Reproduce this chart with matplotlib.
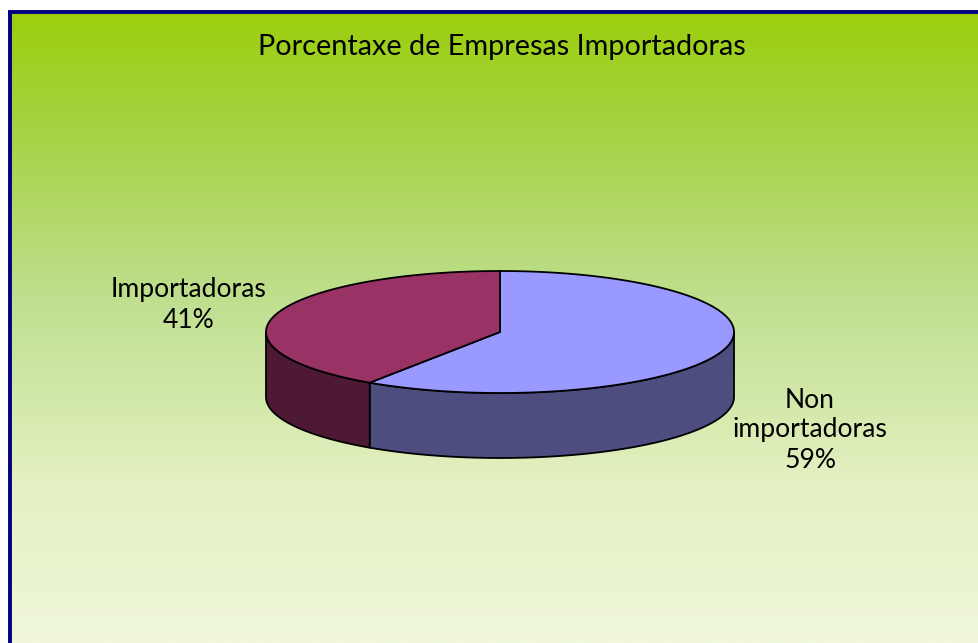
import numpy as np
import matplotlib
matplotlib.use("Agg")
import matplotlib.pyplot as plt
from matplotlib.colors import LinearSegmentedColormap
from matplotlib.patches import Polygon

title = "Porcentaxe de Empresas Importadoras"
categories = ["Non\nimportadoras", "Importadoras"]
values = [59.4, 40.6]
top_colors = ["#9999FF", "#993366"]
side_colors = ["#4D4D80", "#4D1933"]

W, H = 979, 643
CX, CY, RX, RY, DEPTH = 500, 332, 234, 61, 65


def ellipse_point(angle):
    # angle in radians, clockwise from 12 o'clock
    return CX + RX * np.sin(angle), CY - RY * np.cos(angle)


plt.rcParams["font.family"] = ["Lato", "DejaVu Sans"]
fig = plt.figure(figsize=(W / 100, H / 100), dpi=100, facecolor="white")
ax = fig.add_axes([0, 0, 1, 1])

# background gradient and border
bg = LinearSegmentedColormap.from_list(
    "bg", [(0, "#9BCF0C"), (0.17, "#A4D23F"), (0.46, "#C0DF90"),
           (0.75, "#E4F1C2"), (1, "#F0F7DB")])
ax.imshow(np.linspace(0, 1, 256).reshape(-1, 1), cmap=bg, aspect="auto",
          extent=(10, W, H, 12), zorder=0)
ax.set_xlim(0, W)
ax.set_ylim(H, 0)
ax.axis("off")
ax.plot([10, 10], [H, 11.7], color="#000080", lw=2.8, zorder=1, solid_capstyle="butt")
ax.plot([8, W], [11.7, 11.7], color="#000080", lw=2.8, zorder=1, solid_capstyle="butt")

# slices run clockwise from the top
edges = np.concatenate([[0], np.cumsum(values)]) / sum(values) * 2 * np.pi

for i in range(len(values)):
    a0, a1 = edges[i], edges[i + 1]

    # side wall: only the front half of the ellipse is visible
    s0, s1 = max(a0, np.pi / 2), min(a1, 3 * np.pi / 2)
    if s1 > s0:
        t = np.linspace(s0, s1, 120)
        x, y = ellipse_point(t)
        wall = np.column_stack([np.r_[x, x[::-1]], np.r_[y, y[::-1] + DEPTH]])
        ax.add_patch(Polygon(wall, closed=True, facecolor=side_colors[i],
                             edgecolor="black", lw=1.3, zorder=2))

for i in range(len(values)):
    t = np.linspace(edges[i], edges[i + 1], 240)
    x, y = ellipse_point(t)
    top = np.column_stack([np.r_[CX, x], np.r_[CY, y]])
    ax.add_patch(Polygon(top, closed=True, facecolor=top_colors[i],
                         edgecolor="black", lw=1.3, joinstyle="round", zorder=3))

ax.text(502, 47, title, ha="center", va="center", fontsize=20.8, color="black")
ax.text(810, 430, f"{categories[0]}\n{round(values[0])}%", ha="center", va="center",
        fontsize=19.1, color="black", linespacing=1.25)
ax.text(189, 305, f"{categories[1]}\n{round(values[1])}%", ha="center", va="center",
        fontsize=19.1, color="black", linespacing=1.25)

fig.savefig("out.png", dpi=100)
